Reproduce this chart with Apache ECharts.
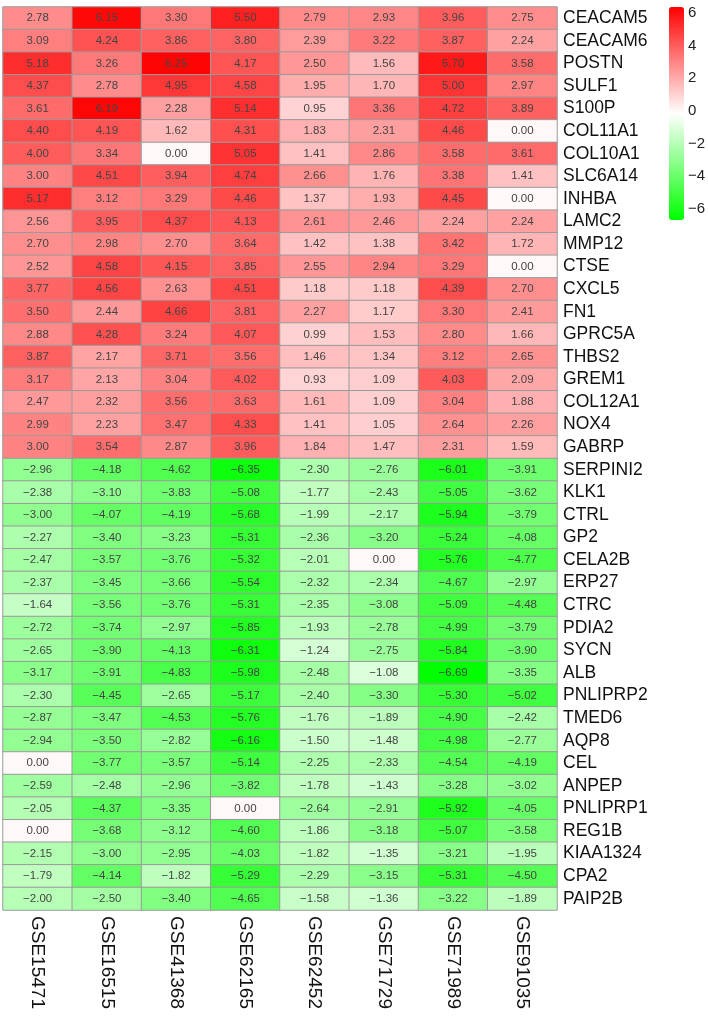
<!DOCTYPE html>
<html>
<head>
<meta charset="utf-8">
<title>DEG heatmap</title>
<script src="https://cdn.jsdelivr.net/npm/echarts@6/dist/echarts.min.js"></script>
<style>
  html, body { margin: 0; padding: 0; background: #fff; }
  #main { width: 708px; height: 1017px; }
</style>
</head>
<body>
<div id="main"></div>
<script>
// datasets (x axis)
const datasets = ['GSE15471', 'GSE16515', 'GSE41368', 'GSE62165', 'GSE62452', 'GSE71729', 'GSE71989', 'GSE91035'];

// up-regulated genes, top block
const upGenes = ['CEACAM5', 'CEACAM6', 'POSTN', 'SULF1', 'S100P', 'COL11A1', 'COL10A1', 'SLC6A14', 'INHBA', 'LAMC2',
  'MMP12', 'CTSE', 'CXCL5', 'FN1', 'GPRC5A', 'THBS2', 'GREM1', 'COL12A1', 'NOX4', 'GABRP'];
const upValues = [
  [2.78, 6.15, 3.30, 5.50, 2.79, 2.93, 3.96, 2.75],
  [3.09, 4.24, 3.86, 3.80, 2.39, 3.22, 3.87, 2.24],
  [5.18, 3.26, 6.25, 4.17, 2.50, 1.56, 5.70, 3.58],
  [4.37, 2.78, 4.95, 4.58, 1.95, 1.70, 5.00, 2.97],
  [3.61, 6.19, 2.28, 5.14, 0.95, 3.36, 4.72, 3.89],
  [4.40, 4.19, 1.62, 4.31, 1.83, 2.31, 4.46, 0.00],
  [4.00, 3.34, 0.00, 5.05, 1.41, 2.86, 3.58, 3.61],
  [3.00, 4.51, 3.94, 4.74, 2.66, 1.76, 3.38, 1.41],
  [5.17, 3.12, 3.29, 4.46, 1.37, 1.93, 4.45, 0.00],
  [2.56, 3.95, 4.37, 4.13, 2.61, 2.46, 2.24, 2.24],
  [2.70, 2.98, 2.70, 3.64, 1.42, 1.38, 3.42, 1.72],
  [2.52, 4.58, 4.15, 3.85, 2.55, 2.94, 3.29, 0.00],
  [3.77, 4.56, 2.63, 4.51, 1.18, 1.18, 4.39, 2.70],
  [3.50, 2.44, 4.66, 3.81, 2.27, 1.17, 3.30, 2.41],
  [2.88, 4.28, 3.24, 4.07, 0.99, 1.53, 2.80, 1.66],
  [3.87, 2.17, 3.71, 3.56, 1.46, 1.34, 3.12, 2.65],
  [3.17, 2.13, 3.04, 4.02, 0.93, 1.09, 4.03, 2.09],
  [2.47, 2.32, 3.56, 3.63, 1.61, 1.09, 3.04, 1.88],
  [2.99, 2.23, 3.47, 4.33, 1.41, 1.05, 2.64, 2.26],
  [3.00, 3.54, 2.87, 3.96, 1.84, 1.47, 2.31, 1.59]
];

// down-regulated genes, bottom block
const downGenes = ['SERPINI2', 'KLK1', 'CTRL', 'GP2', 'CELA2B', 'ERP27', 'CTRC', 'PDIA2', 'SYCN', 'ALB',
  'PNLIPRP2', 'TMED6', 'AQP8', 'CEL', 'ANPEP', 'PNLIPRP1', 'REG1B', 'KIAA1324', 'CPA2', 'PAIP2B'];
const downValues = [
  [-2.96, -4.18, -4.62, -6.35, -2.30, -2.76, -6.01, -3.91],
  [-2.38, -3.10, -3.83, -5.08, -1.77, -2.43, -5.05, -3.62],
  [-3.00, -4.07, -4.19, -5.68, -1.99, -2.17, -5.94, -3.79],
  [-2.27, -3.40, -3.23, -5.31, -2.36, -3.20, -5.24, -4.08],
  [-2.47, -3.57, -3.76, -5.32, -2.01, 0.00, -5.76, -4.77],
  [-2.37, -3.45, -3.66, -5.54, -2.32, -2.34, -4.67, -2.97],
  [-1.64, -3.56, -3.76, -5.31, -2.35, -3.08, -5.09, -4.48],
  [-2.72, -3.74, -2.97, -5.85, -1.93, -2.78, -4.99, -3.79],
  [-2.65, -3.90, -4.13, -6.31, -1.24, -2.75, -5.84, -3.90],
  [-3.17, -3.91, -4.83, -5.98, -2.48, -1.08, -6.69, -3.35],
  [-2.30, -4.45, -2.65, -5.17, -2.40, -3.30, -5.30, -5.02],
  [-2.87, -3.47, -4.53, -5.76, -1.76, -1.89, -4.90, -2.42],
  [-2.94, -3.50, -2.82, -6.16, -1.50, -1.48, -4.98, -2.77],
  [0.00, -3.77, -3.57, -5.14, -2.25, -2.33, -4.54, -4.19],
  [-2.59, -2.48, -2.96, -3.82, -1.78, -1.43, -3.28, -3.02],
  [-2.05, -4.37, -3.35, 0.00, -2.64, -2.91, -5.92, -4.05],
  [0.00, -3.68, -3.12, -4.60, -1.86, -3.18, -5.07, -3.58],
  [-2.15, -3.00, -2.95, -4.03, -1.82, -1.35, -3.21, -1.95],
  [-1.79, -4.14, -1.82, -5.29, -2.29, -3.15, -5.31, -4.50],
  [-2.00, -2.50, -3.40, -4.65, -1.58, -1.36, -3.22, -1.89]
];

// colour scale
const scaleMin = -6.69;
const scaleMax = 6.35;
const scaleTicks = [-6, -4, -2, 0, 2, 4, 6];

const FONT = '"Liberation Sans", Arial, sans-serif';

const genes = upGenes.concat(downGenes);
const matrix = upValues.concat(downValues);

// heatmap data: [x, y, value]
let cells = [];
for (let r = 0; r < matrix.length; r++) {
  for (let c = 0; c < datasets.length; c++) {
    cells.push([c, r, matrix[r][c]]);
  }
}

const chart = echarts.init(document.getElementById('main'), null, { renderer: 'canvas' });

const option = {
  backgroundColor: '#fff',
  animation: false,
  grid: [
    { left: 3, top: 7, width: 554, height: 903 },
    // grid only used for the colour bar tick labels
    { left: 669, top: 7, width: 15, height: 213 }
  ],
  xAxis: [
    {
      type: 'category',
      gridIndex: 0,
      data: datasets,
      position: 'bottom',
      axisLine: { show: false },
      axisTick: { show: false },
      splitLine: { show: false },
      axisLabel: {
        interval: 0,
        rotate: -90,
        margin: 6,
        fontSize: 19,
        color: '#111',
        fontFamily: FONT
      }
    },
    { type: 'value', gridIndex: 1, show: false, min: 0, max: 1 }
  ],
  yAxis: [
    {
      type: 'category',
      gridIndex: 0,
      data: genes,
      inverse: true,
      position: 'right',
      axisLine: { show: false },
      axisTick: { show: false },
      splitLine: { show: false },
      axisLabel: {
        interval: 0,
        margin: 6,
        fontSize: 17.5,
        color: '#111',
        fontFamily: FONT
      }
    },
    {
      type: 'value',
      gridIndex: 1,
      min: scaleMin,
      max: scaleMax,
      position: 'right',
      axisLine: { show: false },
      axisTick: { show: false },
      splitLine: { show: false },
      axisLabel: {
        customValues: scaleTicks,
        margin: 6,
        fontSize: 15,
        color: '#222',
        fontFamily: FONT,
        formatter: function (v) {
          return String(v).replace('-', '\u2212');
        }
      }
    }
  ],
  visualMap: {
    type: 'continuous',
    min: scaleMin,
    max: scaleMax,
    seriesIndex: 0,
    dimension: 2,
    calculable: false,
    realtime: false,
    left: 669,
    top: 7,
    padding: 0,
    itemWidth: 15,
    itemHeight: 213,
    text: null,
    showLabel: false,
    inRange: {
      color: ['#00ff00', '#ffffff', '#ff0000']
    }
  },
  series: [
    {
      type: 'heatmap',
      xAxisIndex: 0,
      yAxisIndex: 0,
      data: cells,
      itemStyle: {
        borderColor: '#9a9a9a',
        borderWidth: 1
      },
      label: {
        show: true,
        fontSize: 11.5,
        color: '#444',
        fontFamily: FONT,
        formatter: function (p) {
          return p.value[2].toFixed(2).replace('-', '\u2212');
        }
      },
      emphasis: { disabled: true }
    }
  ]
};

chart.setOption(option);
</script>
</body>
</html>
